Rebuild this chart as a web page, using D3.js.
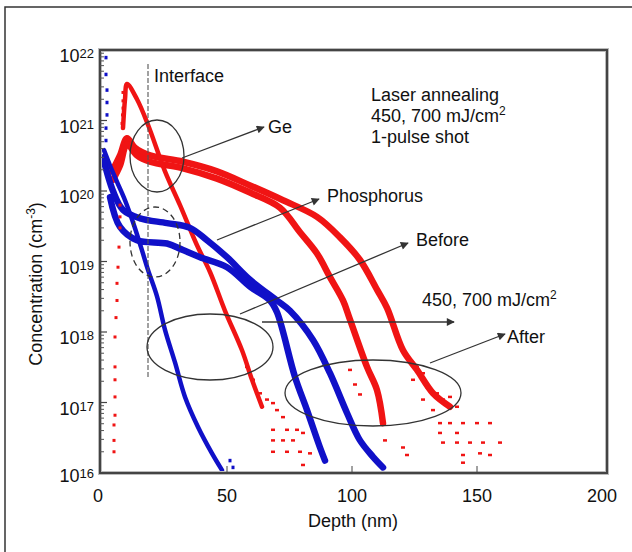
<!DOCTYPE html>
<html>
<head>
<meta charset="utf-8">
<script src="https://cdn.jsdelivr.net/npm/d3@7"></script>
<style>
  body { margin: 0; background: #fff; }
  svg text { font-family: "Liberation Sans", Arial, sans-serif; fill: #111; }
</style>
</head>
<body>
<svg id="chart" width="632" height="552"></svg>
<script>
// Depth (nm) vs concentration (cm^-3)
const geBefore = [[8.4, 7.8e20], [9.2, 2.0e21], [10, 3.3e21], [14, 2.0e21], [18.4, 8.7e20], [25.2, 1.9e20],
  [31.2, 6.3e19], [38, 1.7e19], [43.2, 7.1e18], [49.2, 2.0e18], [56, 5.5e17], [60, 2.1e17], [64, 8.7e16]];
const ge450 = [[4.4, 1.45e20], [7.2, 2.3e20], [10, 4.6e20], [14, 3.2e20], [19.2, 2.6e20], [32.4, 2.1e20],
  [46, 1.5e20], [59.2, 9.5e19], [71.2, 5.8e19], [79.2, 2.6e19], [86, 1.3e19], [91.2, 6.0e18], [96.4, 2.8e18],
  [99.2, 1.5e18], [106, 3.2e17], [110, 1.5e17], [112.4, 5.1e16]];
const ge700 = [[4, 1.9e20], [7.2, 3.2e20], [10, 5.6e20], [13.2, 4.1e20], [19.2, 3.2e20], [32.4, 2.6e20],
  [46, 1.9e20], [59.2, 1.2e20], [72.4, 7.4e19], [86, 4.3e19], [95.2, 2.2e19], [103.2, 1.05e19], [110, 4.0e18],
  [114, 2.2e18], [120.4, 5.5e17], [126, 2.9e17], [132.4, 1.35e17], [139.2, 8.7e16]];
// sparse near-surface Ge points
const geSurface = [[8.4, 2.5e21], [8.4, 1.9e21], [8.4, 1.5e21], [8.2, 1.2e21], [8.0, 9.1e20],
  [7.2, 6.3e19], [7.2, 4.3e19], [7.2, 3.0e19], [6.8, 1.6e19], [6.4, 8.3e18], [6.0, 4.9e18], [6.0, 2.8e18],
  [5.6, 1.6e18], [5.2, 8.5e17], [5.2, 3.2e17], [5.2, 2.1e17], [5.2, 1.2e17], [5.2, 6.6e16], [4.8, 4.8e16],
  [4.8, 2.9e16], [4.8, 2.0e16]];
// noisy tails near the detection limit
const geTailBefore = [[58, 3.2e17], [60.4, 2.1e17], [63.2, 1.35e17], [66, 1.1e17], [68.4, 9.8e16], [70, 7.8e16],
  [72.4, 6.2e16], [68.4, 4.1e16], [74, 4.1e16], [78, 4.1e16], [80.4, 3.7e16], [68.4, 2.9e16], [72.4, 2.9e16],
  [76.4, 2.9e16], [68.4, 2.0e16], [74, 2.0e16], [79.2, 2.0e16], [83.2, 1.9e16], [80.4, 1.3e16]];
const geTailAfter = [[123.2, 4.0e17], [126, 3.2e17], [128.4, 2.6e17], [124.4, 2.1e17], [130, 1.66e17],
  [134, 1.35e17], [128.4, 1.1e17], [136.4, 1.1e17], [139.2, 1.2e17], [142, 8.7e16], [132.4, 7.8e16],
  [135.2, 5.1e16], [139.2, 5.1e16], [144.4, 5.1e16], [150, 5.1e16], [155.2, 5.1e16], [135.2, 3.7e16],
  [142, 3.7e16], [136.4, 2.7e16], [142, 2.7e16], [147.2, 2.7e16], [152.4, 2.7e16], [159.2, 2.7e16],
  [144.4, 1.8e16], [151.2, 1.9e16], [155.2, 1.8e16], [144.4, 1.4e16], [120.4, 2.3e16], [122, 1.8e16],
  [99.2, 2.9e17], [101.2, 1.8e17], [103.2, 1.3e17], [113.2, 2.9e16]];

const pBefore = [[0.8, 3.8e20], [3.2, 2.3e20], [6, 1.35e20], [9.2, 7.4e19], [12.4, 3.6e19], [15.6, 1.6e19],
  [18.4, 7.6e18], [22, 3.2e18], [25.2, 1.07e18], [29.2, 3.7e17], [33.2, 1.2e17], [38.4, 4.5e16],
  [44, 1.9e16], [48, 1.1e16]];
const p450 = [[3.2, 8.2e19], [7.2, 3.1e19], [14, 2.0e19], [26, 1.8e19], [32.4, 1.45e19], [39.2, 1.15e19],
  [50, 8.3e18], [59.2, 4.4e18], [67.2, 2.8e18], [70, 1.9e18], [77.2, 2.3e17], [82, 7.8e16], [87.2, 2.3e16],
  [89.2, 1.5e16]];
const p700 = [[0.4, 3.0e20], [4.4, 1.0e20], [8.4, 5.4e19], [15.2, 4.1e19], [26, 3.5e19], [35.2, 3.0e19],
  [42, 2.0e19], [50, 1.15e19], [59.2, 5.5e18], [70, 2.8e18], [75.2, 2.0e18], [84.4, 7.7e17], [91.2, 2.6e17],
  [98, 7.1e16], [103.2, 2.9e16], [108.4, 1.7e16], [112.4, 1.2e16]];
const pSurface = [[1.6, 7.8e21], [1.6, 4.5e21], [2.0, 2.7e21], [2.0, 1.8e21], [2.0, 1.2e21], [1.6, 7.8e20],
  [1.6, 5.2e20], [51.2, 1.5e16], [52.4, 1.2e16]];

const xTicks = [0, 50, 100, 150, 200];
const yExponents = [16, 17, 18, 19, 20, 21, 22];

const red = '#f01414';
const blue = '#1010c8';

const svg = d3.select('#chart');

// Scales
const x = d3.scaleLinear().domain([0, 200]).range([102, 602]);
const y = d3.scaleLog().domain([1e16, 1e22]).range([473, 50]);

// outer figure border (top and left only are visible)
svg.append('path')
  .attr('d', 'M5,552 L5,7 L632,7')
  .attr('fill', 'none')
  .attr('stroke', '#333')
  .attr('stroke-width', 1.5);

// Profiles drawn as thick bands
const line = d3.line()
  .x(d => x(d[0]))
  .y(d => y(d[1]))
  .curve(d3.curveCatmullRom.alpha(0.5));

const bands = [
  { data: ge700, color: red, w: 6.5 },
  { data: ge450, color: red, w: 6.5 },
  { data: geBefore, color: red, w: 4.5 },
  { data: p700, color: blue, w: 6.5 },
  { data: p450, color: blue, w: 6.5 },
  { data: pBefore, color: blue, w: 4.5 }
];

svg.append('g')
  .selectAll('path')
  .data(bands)
  .enter()
  .append('path')
  .attr('d', d => line(d.data))
  .attr('fill', 'none')
  .attr('stroke', d => d.color)
  .attr('stroke-width', d => d.w)
  .attr('stroke-linejoin', 'round')
  .attr('stroke-linecap', 'round');

// scattered points
function dots(data, color, w, h) {
  svg.append('g')
    .selectAll('rect')
    .data(data)
    .enter()
    .append('rect')
    .attr('x', d => x(d[0]) - w / 2)
    .attr('y', d => y(d[1]) - h / 2)
    .attr('width', w)
    .attr('height', h)
    .attr('fill', color);
}
dots(geSurface, red, 3, 3);
dots(geTailBefore, red, 4, 2.5);
dots(geTailAfter, red, 4, 2.5);
dots(pSurface, blue, 3, 3.5);

// Frame
svg.append('rect')
  .attr('x', 100).attr('y', 50)
  .attr('width', 507).attr('height', 423)
  .attr('fill', 'none')
  .attr('stroke', '#bbb')
  .attr('stroke-width', 4);
svg.append('rect')
  .attr('x', 100).attr('y', 50)
  .attr('width', 507).attr('height', 423)
  .attr('fill', 'none')
  .attr('stroke', '#444')
  .attr('stroke-width', 2);

// x ticks (inside) and labels
svg.append('g')
  .selectAll('line')
  .data(xTicks.slice(1, -1))
  .enter()
  .append('line')
  .attr('x1', d => x(d)).attr('x2', d => x(d))
  .attr('y1', 473).attr('y2', 466)
  .attr('stroke', '#444').attr('stroke-width', 1);

svg.append('g')
  .selectAll('text')
  .data(xTicks)
  .enter()
  .append('text')
  .attr('x', d => x(d) - (d === 0 ? 4 : 0))
  .attr('y', 502)
  .attr('text-anchor', 'middle')
  .attr('font-size', 18)
  .text(d => d);

// y ticks: majors + log minors, inside the frame
const minor = [];
yExponents.slice(0, -1).forEach(e => {
  for (let m = 2; m <= 9; m++) minor.push(m * Math.pow(10, e));
});
svg.append('g')
  .selectAll('line')
  .data(minor)
  .enter()
  .append('line')
  .attr('x1', 100).attr('x2', 104)
  .attr('y1', d => y(d)).attr('y2', d => y(d))
  .attr('stroke', '#555').attr('stroke-width', 1);
svg.append('g')
  .selectAll('line')
  .data(yExponents)
  .enter()
  .append('line')
  .attr('x1', 100).attr('x2', 107)
  .attr('y1', d => y(Math.pow(10, d))).attr('y2', d => y(Math.pow(10, d)))
  .attr('stroke', '#444').attr('stroke-width', 1.2);

const yl = svg.append('g')
  .selectAll('text')
  .data(yExponents)
  .enter()
  .append('text')
  .attr('x', 94)
  .attr('y', d => y(Math.pow(10, d)) + (d === 16 ? 9 : 12))
  .attr('text-anchor', 'end')
  .attr('font-size', 18);
yl.append('tspan').text('10');
yl.append('tspan').attr('dy', -4).attr('font-size', 13).text(d => d);

// Axis titles
svg.append('text')
  .attr('x', 353).attr('y', 527)
  .attr('text-anchor', 'middle')
  .attr('font-size', 18)
  .text('Depth (nm)');

const yt = svg.append('text')
  .attr('transform', 'translate(42,284) rotate(-90)')
  .attr('text-anchor', 'middle')
  .attr('font-size', 18);
yt.append('tspan').text('Concentration (cm');
yt.append('tspan').attr('dy', -7).attr('font-size', 12).text('-3');
yt.append('tspan').attr('dy', 7).text(')');

// Annotations
const ink = '#333';
const defs = svg.append('defs');
defs.append('marker')
  .attr('id', 'arrow')
  .attr('viewBox', '0 0 10 10')
  .attr('refX', 9).attr('refY', 5)
  .attr('markerUnits', 'userSpaceOnUse')
  .attr('markerWidth', 11).attr('markerHeight', 8)
  .attr('orient', 'auto')
  .append('path')
  .attr('d', 'M0,0 L10,5 L0,10 z')
  .attr('fill', ink);

// interface line
svg.append('line')
  .attr('x1', x(18.4)).attr('x2', x(18.4))
  .attr('y1', 64).attr('y2', 378)
  .attr('stroke', '#555').attr('stroke-width', 1.1)
  .attr('stroke-dasharray', '5,2');

const ellipses = [
  { cx: 157, cy: 156, rx: 27, ry: 36, dash: null },
  { cx: 155, cy: 242, rx: 25, ry: 35, dash: '6,4' },
  { cx: 210, cy: 347, rx: 63, ry: 33, dash: null },
  { cx: 373, cy: 393, rx: 88, ry: 33, dash: null }
];
svg.append('g')
  .selectAll('ellipse')
  .data(ellipses)
  .enter()
  .append('ellipse')
  .attr('cx', d => d.cx).attr('cy', d => d.cy)
  .attr('rx', d => d.rx).attr('ry', d => d.ry)
  .attr('fill', 'none')
  .attr('stroke', ink)
  .attr('stroke-width', 1.3)
  .attr('stroke-dasharray', d => d.dash);

const arrows = [
  [182, 158, 264, 127],
  [217, 240, 319, 199],
  [240, 314, 408, 243],
  [262, 322, 454, 322],
  [430, 363, 505, 334]
];
svg.append('g')
  .selectAll('line')
  .data(arrows)
  .enter()
  .append('line')
  .attr('x1', d => d[0]).attr('y1', d => d[1])
  .attr('x2', d => d[2]).attr('y2', d => d[3])
  .attr('stroke', ink)
  .attr('stroke-width', 1.3)
  .attr('marker-end', 'url(#arrow)');

const labels = [
  { x: 154, y: 82, t: 'Interface' },
  { x: 268, y: 133, t: 'Ge' },
  { x: 327, y: 202, t: 'Phosphorus' },
  { x: 416, y: 246, t: 'Before' },
  { x: 507, y: 343, t: 'After' },
  { x: 371, y: 101, t: 'Laser annealing' },
  { x: 371, y: 143, t: '1-pulse shot' }
];
svg.append('g')
  .selectAll('text')
  .data(labels)
  .enter()
  .append('text')
  .attr('x', d => d.x).attr('y', d => d.y)
  .attr('font-size', 18)
  .text(d => d.t);

[[371, 122], [422, 306]].forEach(p => {
  const t = svg.append('text').attr('x', p[0]).attr('y', p[1]).attr('font-size', 18);
  t.append('tspan').text('450, 700 mJ/cm');
  t.append('tspan').attr('dy', -7).attr('font-size', 12).text('2');
});
</script>
</body>
</html>
